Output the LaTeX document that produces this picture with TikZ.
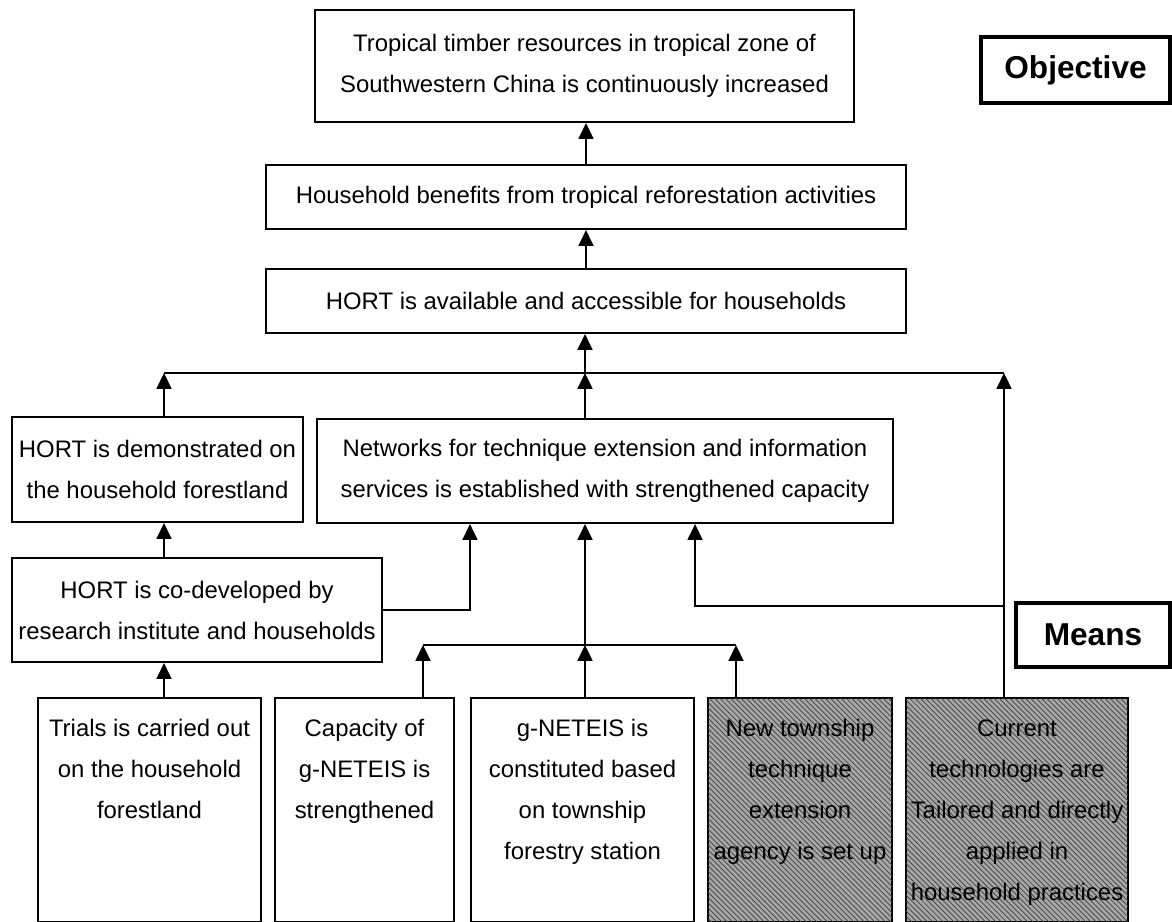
\documentclass[tikz,border=0pt]{standalone}
\usepackage{fontspec}
\setmainfont{Liberation Sans}
\usetikzlibrary{arrows.meta,patterns}

\tikzset{
	box/.style={draw, line width=1.2pt, align=center, inner sep=0pt,
		font=\fontsize{13.6}{23.3}\selectfont},
	shaded/.style={box, fill=black!35,
		postaction={pattern=north west lines, pattern color=black!75}},
	tag/.style={draw, line width=2pt, inner sep=0pt,
		font=\fontsize{18}{22}\selectfont\bfseries},
	arr/.style={-{Triangle[length=9pt,width=8.5pt]}, line width=1pt},
	link/.style={line width=1pt},
}
% text of the tall boxes sits at their top
\newcommand{\topcell}[2]{\parbox[t][4.48cm][t]{#1}{\centering\rule{0pt}{0.77cm}#2}}

\begin{document}
\begin{tikzpicture}[x=0.02cm,y=-0.02cm]
	\useasboundingbox (0,0) rectangle (1172,922);

	% upper chain
	\node[box, minimum width=10.78cm, minimum height=2.24cm] (top) at (584.5,66)
		{Tropical timber resources in tropical zone of\\Southwestern China is continuously increased};
	\node[box, minimum width=12.8cm, minimum height=1.28cm] (hh) at (586,197)
		{Household benefits from tropical reforestation activities};
	\node[box, minimum width=12.8cm, minimum height=1.28cm] (avail) at (586,301)
		{HORT is available and accessible for households};

	\node[box, minimum width=5.82cm, minimum height=2.1cm] (demo) at (157.5,469.5)
		{HORT is demonstrated on\\the household forestland};
	\node[box, minimum width=11.52cm, minimum height=2.08cm] (net) at (605,471)
		{Networks for technique extension and information\\services is established with strengthened capacity};
	\node[box, minimum width=7.4cm, minimum height=2.08cm] (codev) at (197,610)
		{HORT is co-developed by\\research institute and households};

	% means
	\node[box, anchor=north, minimum width=4.46cm] (trials) at (149.5,697)
		{\topcell{4.4cm}{Trials is carried out\\on the household\\forestland}};
	\node[box, anchor=north, minimum width=3.58cm] (capacity) at (364.5,697)
		{\topcell{3.5cm}{Capacity of\\g-NETEIS is\\strengthened}};
	\node[box, anchor=north, minimum width=4.46cm] (gneteis) at (582.5,697)
		{\topcell{4.4cm}{g-NETEIS is\\constituted based\\on township\\forestry station}};
	\node[shaded, anchor=north, minimum width=3.68cm] (newtown) at (800,697)
		{\topcell{3.64cm}{New township\\technique\\extension\\agency is set up}};
	\node[shaded, anchor=north, minimum width=4.44cm] (current) at (1017,697)
		{\topcell{4.42cm}{Current\\technologies are\\Tailored and directly\\applied in\\household practices}};

	\node[tag, minimum width=3.78cm, minimum height=1.32cm] (objective) at (1075.5,70) {Objective};
	\node[tag, minimum width=3.08cm, minimum height=1.28cm] (means) at (1093,635) {Means};

	\coordinate (topbar) at (585,373);
	\coordinate (leftline) at (164,373);
	\coordinate (lowbar) at (585,645);
	\coordinate (lowleft) at (423,645);
	\coordinate (lowright) at (736,645);
	\coordinate (sidetop) at (1004,697);
	\coordinate (sidejoin) at (1004,606);

	\draw[arr] (hh.north) -- (hh.north |- top.south);
	\draw[arr] (avail.north) -- (avail.north |- hh.south);
	\draw[arr] (topbar) -- (topbar |- avail.south);

	\draw[link] (leftline) -- (sidetop |- topbar);
	\draw[arr] (leftline |- demo.north) -- (leftline);
	\draw[arr] (topbar |- net.north) -- (topbar);
	\draw[arr] (sidetop) -- (sidetop |- topbar);

	\draw[arr] (leftline |- codev.north) -- (leftline |- demo.south);
	\draw[arr] (leftline |- trials.north) -- (leftline |- codev.south);
	\draw[arr] (codev.east) -| (gneteis.west |- net.south);
	\draw[arr] (sidejoin) -| (gneteis.east |- net.south);

	\draw[link] (lowleft) -- (lowright);
	\draw[arr] (lowleft |- capacity.north) -- (lowleft);
	\draw[arr] (lowbar |- gneteis.north) -- (lowbar);
	\draw[arr] (lowright |- newtown.north) -- (lowright);
	\draw[arr] (lowbar) -- (lowbar |- net.south);
\end{tikzpicture}
\end{document}
